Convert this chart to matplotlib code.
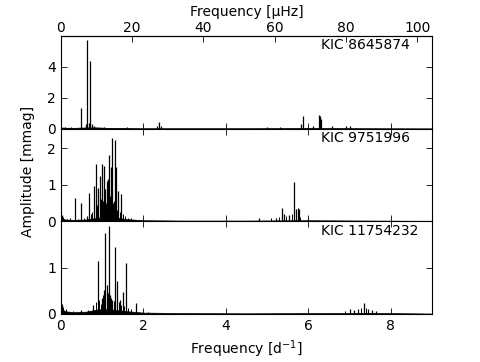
import numpy as np
import matplotlib
matplotlib.use('Agg')
import matplotlib.pyplot as plt

# peaks: frequency [d^-1], amplitude [mmag]
star_names = ['KIC 8645874', 'KIC 9751996', 'KIC 11754232']

freq_1 = [0.10, 0.25, 0.49, 0.60, 0.64, 0.68, 0.71, 0.75, 0.80, 1.05, 1.60, 2.33, 2.37, 2.42,
          4.99, 5.32, 5.83, 5.88, 6.12, 6.25, 6.28, 6.31, 6.57, 6.92, 7.00]
amp_1 = [0.10, 0.12, 1.35, 0.30, 5.74, 0.35, 4.40, 0.30, 0.20, 0.08, 0.10, 0.20, 0.40, 0.15,
         0.10, 0.10, 0.30, 0.84, 0.20, 0.90, 0.85, 0.60, 0.20, 0.15, 0.15]

freq_2 = [0.02, 0.35, 0.48, 0.62, 0.69, 0.81, 0.86, 0.91, 0.94, 1.00, 1.04, 1.07, 1.11, 1.14,
          1.17, 1.21, 1.25, 1.30, 1.34, 1.39, 1.46, 0.97, 1.19, 1.27, 4.81, 5.22, 5.36, 5.40,
          5.52, 5.65, 5.70, 5.74, 5.77, 6.00]
amp_2 = [0.18, 0.65, 0.50, 0.15, 0.78, 0.96, 1.56, 0.92, 1.24, 1.56, 1.51, 0.87, 1.10, 1.15,
         1.82, 1.47, 2.27, 2.22, 1.47, 0.83, 0.74, 0.60, 0.70, 0.50, 0.10, 0.10, 0.37, 0.20,
         0.17, 1.07, 0.34, 0.37, 0.35, 0.07]
# small grass peaks, middle star
grass_f2 = [0.05, 0.15, 0.22, 0.42, 0.55, 0.72, 0.76, 0.84, 0.88, 0.96, 1.02, 1.09, 1.13, 1.16,
            1.23, 1.28, 1.32, 1.36, 1.42, 1.50, 1.55, 1.62, 1.70, 5.10, 5.30, 5.45, 5.60, 5.80]
grass_a2 = [0.12, 0.07, 0.08, 0.06, 0.10, 0.20, 0.25, 0.35, 0.45, 0.40, 0.55, 0.50, 0.45, 0.60,
            0.40, 0.55, 0.35, 0.30, 0.25, 0.20, 0.15, 0.10, 0.08, 0.08, 0.12, 0.15, 0.20, 0.12]

freq_3 = [0.02, 0.48, 0.78, 0.90, 1.00, 1.05, 1.08, 1.11, 1.16, 1.19, 1.25, 1.32, 1.37, 1.43,
          1.50, 1.58, 1.82, 7.02, 7.12, 7.20, 7.34, 7.45, 7.55, 7.65]
amp_3 = [0.22, 0.08, 0.20, 1.15, 0.35, 0.52, 1.74, 0.63, 1.90, 0.41, 0.30, 1.45, 0.71, 0.30,
         0.48, 1.09, 0.23, 0.10, 0.08, 0.10, 0.23, 0.10, 0.08, 0.06]
# small grass peaks, bottom star
grass_f3 = [0.05, 0.12, 0.30, 0.65, 0.86, 0.93, 0.97, 1.02, 1.13, 1.22, 1.28, 1.35, 1.40, 1.46,
            1.53, 1.62, 1.70, 2.10, 6.90, 7.28, 7.40]
grass_a3 = [0.15, 0.10, 0.06, 0.08, 0.25, 0.30, 0.22, 0.40, 0.45, 0.35, 0.28, 0.30, 0.25, 0.20,
            0.18, 0.12, 0.10, 0.05, 0.06, 0.12, 0.12]

# noise floor envelope (frequency, level)
noise_f = [0.0, 0.1, 0.3, 0.6, 0.9, 1.2, 1.6, 2.0, 3.0, 4.5, 6.0, 7.5, 9.0]
noise_1 = [0.08, 0.06, 0.05, 0.08, 0.08, 0.04, 0.03, 0.02, 0.02, 0.02, 0.03, 0.02, 0.01]
noise_2 = [0.10, 0.05, 0.04, 0.05, 0.10, 0.12, 0.06, 0.03, 0.02, 0.02, 0.03, 0.02, 0.01]
noise_3 = [0.12, 0.06, 0.04, 0.05, 0.10, 0.10, 0.06, 0.03, 0.02, 0.015, 0.02, 0.025, 0.01]

ylims = [6.0, 2.53, 2.0]
yticks = [[0, 2, 4], [0, 1, 2], [0, 1]]

plt.rcParams['font.family'] = 'DejaVu Sans'
plt.rcParams['font.size'] = 10

fig = plt.figure(figsize=(4.8, 3.62), dpi=100)
left, right = 0.127, 0.900
bottom, top = 0.1326, 0.9006
h = (top - bottom) / 3

freqs = [freq_1, freq_2, freq_3]
amps = [amp_1, amp_2, amp_3]
grass = [([], []), (grass_f2, grass_a2), (grass_f3, grass_a3)]
noises = [noise_1, noise_2, noise_3]
axes = []
for i in range(3):
    ax = fig.add_axes([left, top - (i + 1) * h, right - left, h])
    ax.fill_between(noise_f, 0, noises[i], color='black', lw=0.5)
    ax.vlines(grass[i][0], 0, grass[i][1], color='black', lw=0.7)
    ax.vlines(freqs[i], 0, amps[i], color='black', lw=0.9)
    ax.set_xlim(0, 9)
    ax.set_ylim(0, ylims[i])
    ax.set_yticks(yticks[i])
    ax.set_xticks([0, 2, 4, 6, 8])
    ax.tick_params(direction='in', top=True, right=True, length=4, width=0.6)
    ax.text(0.70, 0.975, star_names[i], transform=ax.transAxes, ha='left', va='top')
    if i < 2:
        ax.set_xticklabels([])
    axes.append(ax)

top_ax = axes[0].secondary_xaxis('top', functions=(lambda f: f * 1e6 / 86400.0,
                                                    lambda u: u * 86400.0 / 1e6))
top_ax.set_xticks([0, 20, 40, 60, 80, 100])
top_ax.tick_params(direction='in', length=4, width=0.6, pad=1)
top_ax.set_xlabel('Frequency [μHz]', labelpad=3)
axes[0].tick_params(top=False)

axes[2].set_xlabel('Frequency [d$^{-1}$]')
fig.text(0.058, 0.5 * (top + bottom) + 0.01, 'Amplitude [mmag]', rotation=90, ha='center', va='center')

fig.savefig('out.png', dpi=100)
